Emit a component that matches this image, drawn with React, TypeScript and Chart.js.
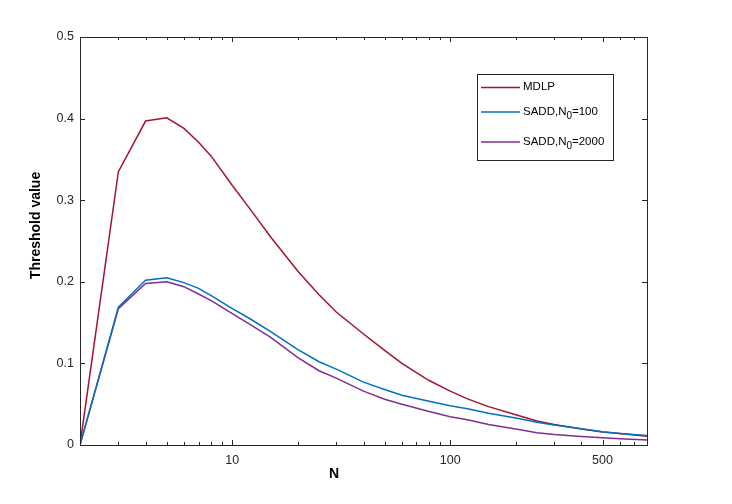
import { useEffect, useRef } from "react";
import { Chart, registerables, ChartConfiguration, Plugin } from "chart.js";

Chart.register(...registerables);

const nValues = [2, 3, 4, 5, 6, 7, 8, 10, 12, 15, 20, 25, 30, 40, 50, 60, 80, 100, 120, 150, 200, 250, 300, 400, 500, 600, 800];
const mdlp = [0, 0.335, 0.397, 0.401, 0.388, 0.371, 0.354, 0.318, 0.290, 0.255, 0.213, 0.184, 0.163, 0.136, 0.116, 0.100, 0.079, 0.066, 0.0565, 0.047, 0.037, 0.0295, 0.025, 0.0195, 0.016, 0.014, 0.0108];
const sadd100 = [0, 0.169, 0.202, 0.205, 0.199, 0.192, 0.183, 0.167, 0.155, 0.139, 0.117, 0.102, 0.093, 0.077, 0.068, 0.061, 0.0535, 0.048, 0.0443, 0.039, 0.033, 0.0278, 0.0245, 0.0198, 0.0162, 0.0142, 0.0115];
const sadd2000 = [0, 0.167, 0.198, 0.200, 0.194, 0.185, 0.177, 0.161, 0.148, 0.132, 0.107, 0.091, 0.082, 0.066, 0.056, 0.050, 0.041, 0.0347, 0.031, 0.025, 0.0195, 0.015, 0.0128, 0.0104, 0.0088, 0.0077, 0.0061];

const seriesLabels = ["MDLP", "SADD,N_0=100", "SADD,N_0=2000"];
const seriesColors = ["#A2142F", "#0072BD", "#7E2F8E"];

const xMajorTicks = [10, 100, 500];
const xMinorTicks = [3, 4, 5, 6, 7, 8, 9, 20, 30, 40, 50, 60, 70, 80, 90, 200, 300, 400, 600, 700];
const yTicks = [0, 0.1, 0.2, 0.3, 0.4, 0.5];

const FONT = "'Liberation Sans', Arial, Helvetica, sans-serif";
const AXIS_COLOR = "#262626";

const toPoints = (ys: number[]) => nValues.map((n, i) => ({ x: n, y: ys[i] }));

// draws the matlab-ish box, inward ticks, axis titles and the legend
const decorations: Plugin<"line"> = {
  id: "decorations",
  afterDraw(chart) {
    const { ctx, chartArea: a, scales } = chart;
    const xs = scales.x;
    const ys = scales.y;
    ctx.save();
    ctx.strokeStyle = AXIS_COLOR;
    ctx.lineWidth = 1;
    ctx.strokeRect(Math.round(a.left) + 0.5, Math.round(a.top) + 0.5, Math.round(a.width), Math.round(a.height));

    const vTick = (v: number, len: number) => {
      const px = Math.round(xs.getPixelForValue(v)) + 0.5;
      ctx.beginPath();
      ctx.moveTo(px, a.bottom);
      ctx.lineTo(px, a.bottom - len);
      ctx.moveTo(px, a.top);
      ctx.lineTo(px, a.top + len);
      ctx.stroke();
    };
    xMajorTicks.forEach((v) => vTick(v, 5));
    xMinorTicks.forEach((v) => vTick(v, 3));
    yTicks.forEach((v) => {
      const py = Math.round(ys.getPixelForValue(v)) + 0.5;
      ctx.beginPath();
      ctx.moveTo(a.left, py);
      ctx.lineTo(a.left + 5, py);
      ctx.moveTo(a.right, py);
      ctx.lineTo(a.right - 5, py);
      ctx.stroke();
    });

    // axis titles
    ctx.fillStyle = "#000";
    ctx.font = `bold 14px ${FONT}`;
    ctx.textAlign = "center";
    ctx.textBaseline = "middle";
    ctx.fillText("N", a.left + a.width * 0.448, a.bottom + 29);
    ctx.save();
    ctx.translate(36, a.top + a.height * 0.462);
    ctx.rotate(-Math.PI / 2);
    ctx.fillText("Threshold value", 0, 0);
    ctx.restore();

    // legend
    const lx = 477;
    const ly = 74;
    ctx.fillStyle = "#fff";
    ctx.fillRect(lx, ly, 136, 86);
    ctx.strokeStyle = AXIS_COLOR;
    ctx.strokeRect(lx + 0.5, ly + 0.5, 136, 86);
    const rows = [13, 37.5, 67.5];
    seriesLabels.forEach((label, i) => {
      const y = ly + rows[i];
      ctx.strokeStyle = seriesColors[i];
      ctx.lineWidth = 1.3;
      ctx.beginPath();
      ctx.moveTo(lx + 4, y + 0.5);
      ctx.lineTo(lx + 43, y + 0.5);
      ctx.stroke();
      ctx.fillStyle = "#000";
      ctx.textAlign = "left";
      ctx.textBaseline = "middle";
      let tx = lx + 46;
      label.split(/(_\w)/).forEach((part) => {
        if (!part) return;
        if (part.startsWith("_")) {
          ctx.font = `10px ${FONT}`;
          ctx.fillText(part.slice(1), tx, y + 5);
          tx += ctx.measureText(part.slice(1)).width;
        } else {
          ctx.font = `11.5px ${FONT}`;
          ctx.fillText(part, tx, y);
          tx += ctx.measureText(part).width;
        }
      });
    });
    ctx.restore();
  },
};

export default function App() {
  const canvasRef = useRef<HTMLCanvasElement>(null);
  const chartRef = useRef<Chart | null>(null);

  useEffect(() => {
    if (!canvasRef.current) return;
    if (chartRef.current) chartRef.current.destroy();

    const config: ChartConfiguration<"line"> = {
      type: "line",
      data: {
        datasets: [
          { label: seriesLabels[0], data: toPoints(mdlp), borderColor: seriesColors[0], order: 3 },
          { label: seriesLabels[1], data: toPoints(sadd100), borderColor: seriesColors[1], order: 1 },
          { label: seriesLabels[2], data: toPoints(sadd2000), borderColor: seriesColors[2], order: 2 },
        ].map((d) => ({ ...d, borderWidth: 1.5, pointRadius: 0, tension: 0, fill: false })),
      },
      options: {
        animation: false,
        responsive: true,
        maintainAspectRatio: false,
        layout: { padding: { top: 37, right: 85, left: 0, bottom: 0 } },
        plugins: { legend: { display: false }, tooltip: { enabled: false } },
        scales: {
          x: {
            type: "logarithmic",
            min: 2,
            max: 800,
            grid: { display: false, drawTicks: false },
            border: { display: false },
            afterBuildTicks: (scale) => {
              scale.ticks = xMajorTicks.map((v) => ({ value: v }));
            },
            afterFit: (scale) => {
              scale.height = 59;
            },
            ticks: {
              autoSkip: false,
              maxRotation: 0,
              padding: 8,
              color: AXIS_COLOR,
              font: { family: FONT, size: 12.5 },
              callback: (v) => String(v),
            },
          },
          y: {
            type: "linear",
            min: 0,
            max: 0.5,
            grid: { display: false, drawTicks: false },
            border: { display: false },
            afterBuildTicks: (scale) => {
              scale.ticks = yTicks.map((v) => ({ value: v }));
            },
            afterFit: (scale) => {
              scale.width = 80;
            },
            ticks: {
              padding: 6,
              color: AXIS_COLOR,
              font: { family: FONT, size: 12.5 },
              callback: (v) => String(Math.round(Number(v) * 10) / 10),
            },
          },
        },
      },
      plugins: [decorations],
    };

    chartRef.current = new Chart(canvasRef.current, config);
    return () => {
      if (chartRef.current) chartRef.current.destroy();
      chartRef.current = null;
    };
  }, []);

  return (
    <div style={{ position: "fixed", left: 0, top: 0, width: 732, height: 504, background: "#fff" }}>
      <canvas ref={canvasRef} />
    </div>
  );
}
